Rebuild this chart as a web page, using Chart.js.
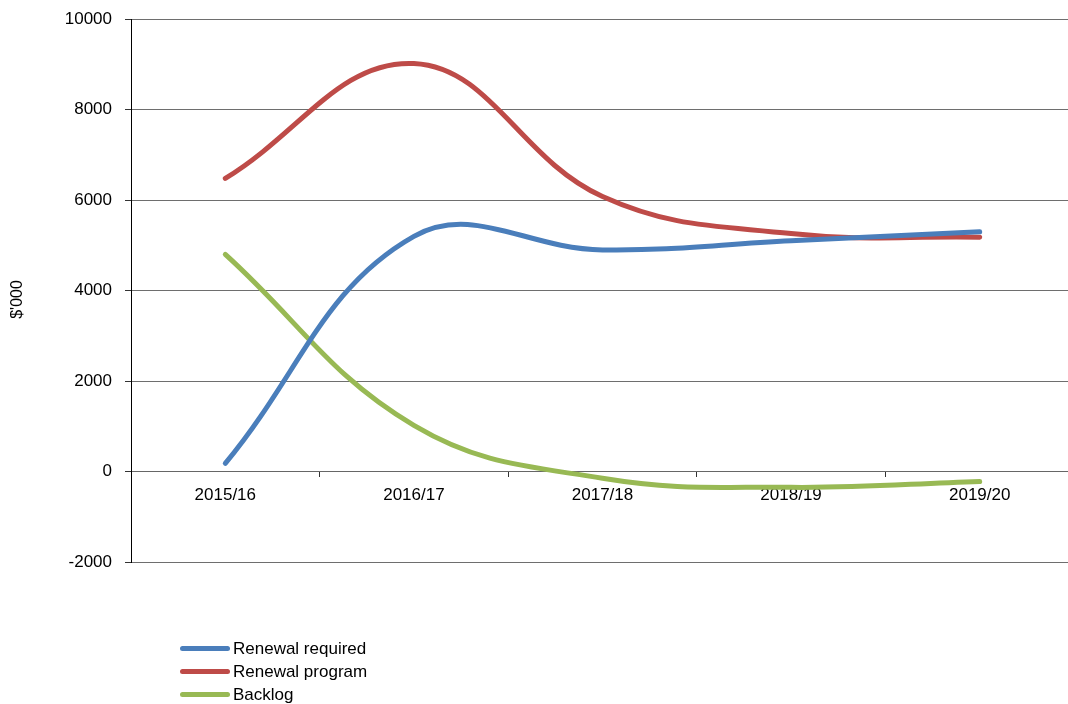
<!DOCTYPE html>
<html>
<head>
<meta charset="utf-8">
<script src="https://cdn.jsdelivr.net/npm/chart.js@4.4.1/dist/chart.umd.min.js"></script>
<style>
  html, body { margin: 0; padding: 0; background: #fff; }
  #wrap { position: relative; width: 1068px; height: 704px; overflow: hidden; }
  #lifeChart { position: absolute; left: 0; top: -4px; }
  #legend { position: absolute; left: 180px; top: 637px; font: 17px 'Liberation Sans', Arial, sans-serif; color: #000; }
  #legend div { height: 23px; line-height: 23px; display: flex; align-items: center; }
  #legend span.sw { display: inline-block; width: 50px; height: 5px; border-radius: 3px; margin-right: 3px; }
</style>
</head>
<body>
<div id="wrap">
  <canvas id="lifeChart" width="1075" height="708"></canvas>
  <div id="legend"></div>
</div>
<script>
const years = ['2015/16', '2016/17', '2017/18', '2018/19', '2019/20'];
const renewalRequired = [180, 5200, 4900, 5100, 5300];
const renewalProgram = [6480, 9020, 6080, 5260, 5180];
const backlog = [4800, 1020, -150, -350, -220];

const fontFamily = "'Liberation Sans', Arial, sans-serif";

document.addEventListener("DOMContentLoaded", function() {
  const ctx = document.getElementById('lifeChart').getContext('2d');
  const chart = new Chart(ctx, {
    type: 'line',
    data: {
      labels: years,
      datasets: [
        { label: 'Renewal required', data: renewalRequired, borderColor: '#4A7EBB' },
        { label: 'Renewal program', data: renewalProgram, borderColor: '#BE4B48' },
        { label: 'Backlog', data: backlog, borderColor: '#98B954' }
      ]
    },
    options: {
      responsive: false,
      animation: false,
      layout: { padding: { top: 9, bottom: 142, right: 1, left: 0 } },
      elements: {
        line: { borderWidth: 5, tension: 0.4, borderCapStyle: 'round', fill: false },
        point: { radius: 0, hoverRadius: 0 }
      },
      plugins: { legend: { display: false }, tooltip: { enabled: false } },
      scales: {
        x: {
          position: { y: 0 },
          offset: true,
          grid: { offset: true, drawOnChartArea: false, drawTicks: true, tickLength: 5, color: '#333' },
          border: { display: true, color: '#666' },
          ticks: { color: '#000', font: { family: fontFamily, size: 17 }, padding: 9, maxRotation: 0 }
        },
        y: {
          min: -2000,
          max: 10000,
          afterFit: function(scale) { scale.width = 131; },
          grid: { color: '#6e6e6e', tickLength: 6, tickColor: '#333' },
          border: { display: true, color: '#000' },
          ticks: {
            stepSize: 2000, color: '#000', font: { family: fontFamily, size: 17 }, padding: 13,
            callback: function(value) { return String(value); }
          },
          // trailing spaces nudge the rotated title a little lower, as in the original
          title: { display: true, text: "$'000\u00a0\u00a0\u00a0\u00a0", color: '#000', font: { family: fontFamily, size: 16 }, padding: 8 }
        }
      }
    }
  });

  // legend stacked vertically like the original
  const legend = document.getElementById('legend');
  chart.data.datasets.forEach(function(ds) {
    const row = document.createElement('div');
    row.innerHTML = '<span class="sw" style="background:' + ds.borderColor + '"></span>' + ds.label;
    legend.appendChild(row);
  });
});
</script>
</body>
</html>
